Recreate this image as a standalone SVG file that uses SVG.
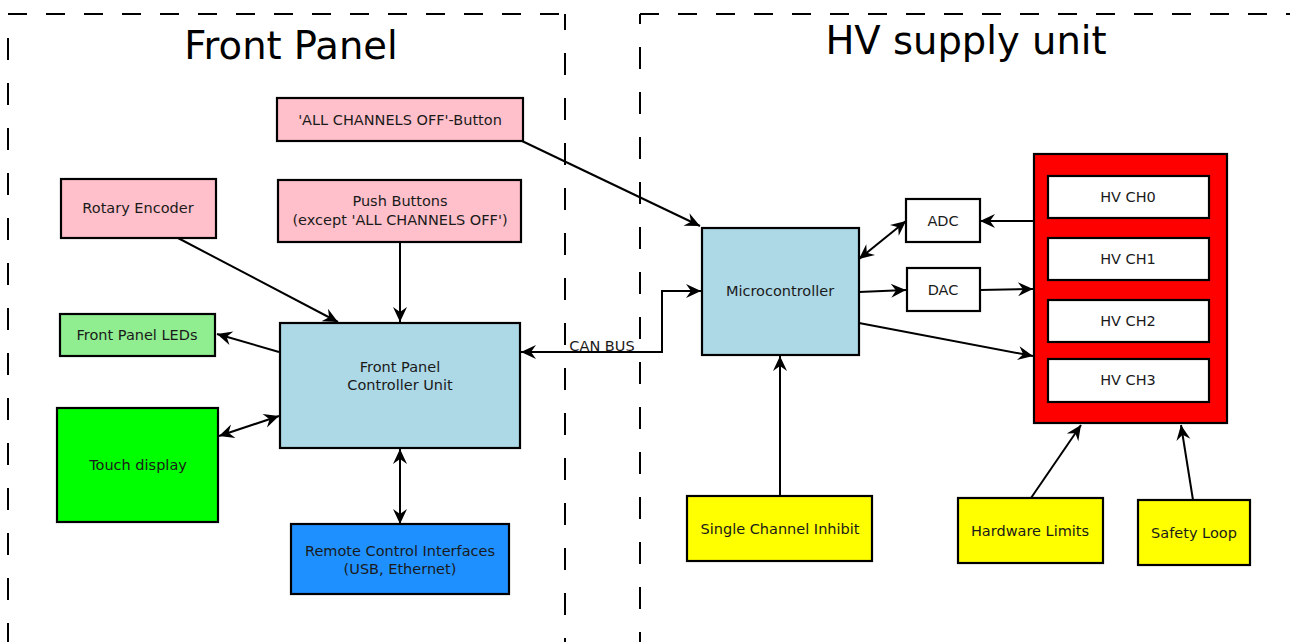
<svg xmlns="http://www.w3.org/2000/svg" width="1290" height="642" viewBox="0 0 1290 642">
<style>
.box{stroke:#000;stroke-width:2.2}
.pink{fill:#ffc0cb}.lb{fill:#add8e6}.lg{fill:#90ee90}.gr{fill:#00ff00}.db{fill:#1e90ff}.ye{fill:#ffff00}.wh{fill:#fff}.rd{fill:#ff0000}
text{font-family:"DejaVu Sans","Liberation Sans",sans-serif;font-size:14.5px;fill:#1a1a1a;text-anchor:middle}
.title{font-size:38.5px;fill:#000}
.dh{stroke:#000;stroke-width:2;stroke-dasharray:19 19;fill:none}
.dv{stroke:#000;stroke-width:2;stroke-dasharray:22 23;fill:none}
.c{stroke:#000;stroke-width:2;fill:none}
</style>
<defs>
<marker id="ah" viewBox="-16 -8 18 16" markerWidth="18" markerHeight="16" refX="0" refY="0" orient="auto-start-reverse" markerUnits="userSpaceOnUse">
<path d="M0,0 L-15,-7 L-10,0 L-15,7 Z" fill="#000"/>
</marker>
</defs>
<g id="frames">
<path class="dh" d="M8,14 H565"/>
<path class="dv" d="M565,14 V642" stroke-dashoffset="6"/>
<path class="dv" d="M8,38 V642"/>
<path class="dh" d="M640,14 H1290"/>
<path class="dv" d="M640,14 V642" stroke-dashoffset="12"/>
<text class="title" x="291" y="59">Front Panel</text>
<text class="title" x="966" y="54">HV supply unit</text>
</g>
<g id="connectors">
<path class="c" d="M522,141 L700,226" marker-end="url(#ah)"/>
<path class="c" d="M178,238 L338,322" marker-end="url(#ah)"/>
<path class="c" d="M400,242 L400,322" marker-end="url(#ah)"/>
<path class="c" d="M279,352 L217,334" marker-end="url(#ah)"/>
<path class="c" d="M219,436 L279,416" marker-start="url(#ah)" marker-end="url(#ah)"/>
<path class="c" d="M400,449 L400,524" marker-start="url(#ah)" marker-end="url(#ah)"/>
<path class="c" d="M521,352 H662 V291 H701" marker-start="url(#ah)" marker-end="url(#ah)"/>
<text x="602" y="351">CAN BUS</text>
<path class="c" d="M859,259 L906,221" marker-start="url(#ah)" marker-end="url(#ah)"/>
<path class="c" d="M859,292 L906,290" marker-end="url(#ah)"/>
<path class="c" d="M980,290 L1033,289" marker-end="url(#ah)"/>
<path class="c" d="M1033,221 L980,221" marker-end="url(#ah)"/>
<path class="c" d="M859,323 L1033,356" marker-end="url(#ah)"/>
<path class="c" d="M780,496 L780,356" marker-end="url(#ah)"/>
<path class="c" d="M1031,498 L1081,425" marker-end="url(#ah)"/>
<path class="c" d="M1193,500 L1181,425" marker-end="url(#ah)"/>
</g>
<g id="allOff"><rect class="box pink" x="277" y="98" width="246" height="43"/><text x="400" y="125">'ALL CHANNELS OFF'-Button</text></g>
<g id="rotary"><rect class="box pink" x="61" y="179" width="155" height="59"/><text x="138" y="213">Rotary Encoder</text></g>
<g id="push"><rect class="box pink" x="278" y="180" width="243" height="62"/><text x="400" y="206">Push Buttons</text><text x="400" y="225">(except 'ALL CHANNELS OFF')</text></g>
<g id="leds"><rect class="box lg" x="60" y="314" width="155" height="42"/><text x="137" y="340">Front Panel LEDs</text></g>
<g id="fpcu"><rect class="box lb" x="280" y="323" width="240" height="125"/><text x="400" y="372">Front Panel</text><text x="400" y="390">Controller Unit</text></g>
<g id="touch"><rect class="box gr" x="57" y="408" width="161" height="114"/><text x="138" y="470">Touch display</text></g>
<g id="remote"><rect class="box db" x="291" y="524" width="218" height="70"/><text x="400" y="556">Remote Control Interfaces</text><text x="400" y="574">(USB, Ethernet)</text></g>
<g id="micro"><rect class="box lb" x="702" y="228" width="157" height="127"/><text x="780" y="296">Microcontroller</text></g>
<g id="adc"><rect class="box wh" x="906" y="199" width="74" height="43"/><text x="943" y="226">ADC</text></g>
<g id="dac"><rect class="box wh" x="907" y="268" width="73" height="43"/><text x="943" y="295">DAC</text></g>
<g id="hv"><rect class="box rd" x="1034" y="154" width="193" height="269"/>
<rect class="box wh" x="1048" y="176" width="161" height="42"/><text x="1128" y="202">HV CH0</text>
<rect class="box wh" x="1048" y="238" width="161" height="42"/><text x="1128" y="264">HV CH1</text>
<rect class="box wh" x="1048" y="300" width="161" height="42"/><text x="1128" y="326">HV CH2</text>
<rect class="box wh" x="1048" y="359" width="161" height="43"/><text x="1128" y="385">HV CH3</text></g>
<g id="inhibit"><rect class="box ye" x="687" y="496" width="185" height="65"/><text x="780" y="534">Single Channel Inhibit</text></g>
<g id="hwlimits"><rect class="box ye" x="958" y="498" width="145" height="65"/><text x="1030" y="536">Hardware Limits</text></g>
<g id="safety"><rect class="box ye" x="1138" y="500" width="112" height="65"/><text x="1194" y="538">Safety Loop</text></g>
</svg>
